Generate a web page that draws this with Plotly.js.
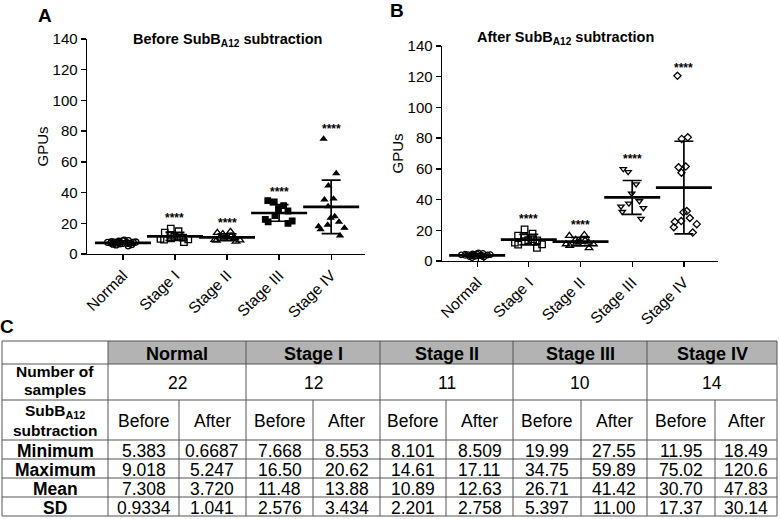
<!DOCTYPE html>
<html><head><meta charset="utf-8">
<script src="https://cdn.plot.ly/plotly-3.0.1.min.js"></script>
<style>html,body{margin:0;padding:0;background:#fff}#chart{width:780px;height:519px}</style>
</head><body><div id="chart"></div>
<script>
// ---------------- DATA ----------------
const categories = ['Normal', 'Stage I', 'Stage II', 'Stage III', 'Stage IV'];
const sampleCounts = [22, 12, 11, 10, 14];

// Panel A: individual GPU values before SubB_A12 subtraction
const beforeNormal = [5.383, 5.9, 6.2, 6.4, 6.6, 6.8, 6.9, 7.0, 7.1, 7.2, 7.3, 7.4, 7.5, 7.6, 7.7, 7.8, 7.9, 8.1, 8.3, 8.5, 8.7, 9.018];
const beforeStageI = [16.50, 14.8, 13.9, 12.4, 11.8, 11.2, 10.6, 10.2, 9.8, 9.5, 9.4, 7.668];
const beforeStageII = [14.61, 13.9, 13.2, 11.5, 11.0, 10.4, 10.0, 9.3, 9.0, 8.8, 8.101];
const beforeStageIII = [34.75, 34.0, 31.5, 29.5, 28.0, 25.0, 22.5, 21.5, 20.9, 19.99];
const beforeStageIV = [75.02, 52.5, 44.5, 36.0, 35.5, 31.0, 24.5, 23.5, 21.0, 19.0, 18.0, 17.0, 16.0, 11.95];

// Panel B: individual GPU values after SubB_A12 subtraction
const afterNormal = [0.6687, 2.2, 2.6, 2.9, 3.0, 3.2, 3.3, 3.4, 3.5, 3.6, 3.7, 3.8, 3.9, 4.0, 4.1, 4.2, 4.3, 4.5, 4.6, 4.8, 5.0, 5.247];
const afterStageI = [20.62, 17.8, 16.5, 15.5, 14.2, 13.6, 13.4, 13.0, 12.0, 10.8, 10.6, 8.553];
const afterStageII = [17.11, 16.5, 14.0, 13.5, 12.6, 12.2, 12.0, 11.0, 11.0, 10.0, 8.509];
const afterStageIII = [59.89, 58.0, 50.0, 44.0, 39.0, 37.5, 35.5, 34.5, 32.0, 27.55];
const afterStageIV = [120.6, 80.5, 79.5, 61.5, 61.0, 57.5, 32.5, 31.8, 28.0, 26.0, 25.5, 24.0, 22.0, 18.49];

// Summary statistics (table C; also the mean ± SD bars)
const beforeMin = [5.383, 7.668, 8.101, 19.99, 11.95];
const afterMin = [0.6687, 8.553, 8.509, 27.55, 18.49];
const beforeMax = [9.018, 16.50, 14.61, 34.75, 75.02];
const afterMax = [5.247, 20.62, 17.11, 59.89, 120.6];
const beforeMean = [7.308, 11.48, 10.89, 26.71, 30.70];
const afterMean = [3.720, 13.88, 12.63, 41.42, 47.83];
const beforeSD = [0.9334, 2.576, 2.201, 5.397, 17.37];
const afterSD = [1.041, 3.434, 2.758, 11.00, 30.14];

// Significance markers (height of the **** label above each group)
const starLabels = ['', '****', '****', '****', '****'];
const starBefore = [null, 23.5, 20.5, 40.5, 81.5];
const starAfter = [null, 27.2, 23.4, 66.2, 126.0];

const statRowLabels = ['Minimum', 'Maximum', 'Mean', 'SD'];
const phaseLabels = ['Before', 'After'];
const countLabelLines = ['Number of', 'samples'];
const phaseLabelLines = ['SubB<sub>A12</sub>', 'subtraction'];

// ---------------- STYLE / LAYOUT ----------------
const W = 780, H = 519;
const FONT = 'Arial, "Liberation Sans", sans-serif';
const px = x => x / W;
const py = y => 1 - y / H;

const symbolsA = ['circle-open', 'square-open', 'triangle-up-open', 'square', 'triangle-up'];
const symbolsB = ['circle-open', 'square-open', 'triangle-up-open', 'triangle-down-open', 'diamond-open'];
const sizesA = [6, 6.5, 6.5, 5.5, 5];
const sizesB = [5.5, 6.5, 6.5, 5.5, 5.5];

const groupsA = [beforeNormal, beforeStageI, beforeStageII, beforeStageIII, beforeStageIV];
const groupsB = [afterNormal, afterStageI, afterStageII, afterStageIII, afterStageIV];

const traces = [];
function addPanel(groups, means, sds, symbols, sizes, xa, ya) {
  groups.forEach((vals, i) => {
    traces.push({
      type: 'box', x: vals.map(() => categories[i]), y: vals,
      xaxis: xa, yaxis: ya,
      boxpoints: 'all', jitter: 1, pointpos: 0, width: 0.66,
      fillcolor: 'rgba(0,0,0,0)', line: {color: 'rgba(0,0,0,0)', width: 0}, whiskerwidth: 0,
      marker: {symbol: symbols[i], size: sizes[i], color: '#000', line: {color: '#000', width: 1.3}},
      hoverinfo: 'skip', showlegend: false
    });
  });
  traces.push({
    type: 'scatter', mode: 'markers', x: categories, y: means, xaxis: xa, yaxis: ya,
    error_y: {type: 'data', array: sds, visible: true, color: '#000', thickness: 1.7, width: 9.5},
    marker: {symbol: 'line-ew', size: 40, color: '#000', line: {color: '#000', width: 2.7}},
    cliponaxis: false, hoverinfo: 'skip', showlegend: false
  });
}
addPanel(groupsA, beforeMean, beforeSD, symbolsA, sizesA, 'x', 'y');
addPanel(groupsB, afterMean, afterSD, symbolsB, sizesB, 'x2', 'y2');

function xAxis(dom, anchor, range) {
  return {
    domain: dom, anchor: anchor, type: 'category', categoryorder: 'array', categoryarray: categories,
    range: range, showline: true, linecolor: '#000', linewidth: 1.4, ticks: 'outside', ticklen: 5,
    tickwidth: 1.3, tickcolor: '#000', tickangle: -45, tickfont: {family: FONT, size: 15.5, color: '#000'},
    showgrid: false, zeroline: false, fixedrange: true
  };
}
function yAxis(dom, anchor) {
  return {
    domain: dom, anchor: anchor, range: [0, 140], dtick: 20, showline: true, linecolor: '#000',
    linewidth: 1.4, ticks: 'outside', ticklen: 5, tickwidth: 1.3, tickcolor: '#000',
    tickfont: {family: FONT, size: 15, color: '#000'}, showgrid: false, zeroline: false, fixedrange: true,
    title: {text: 'GPUs', font: {family: FONT, size: 15, color: '#000'}, standoff: 0}
  };
}

const annotations = [];
const shapes = [];
function ann(text, x, y, size, extra) {
  annotations.push(Object.assign({
    text: text, x: px(x), y: py(y), xref: 'paper', yref: 'paper', showarrow: false, borderpad: 0,
    xanchor: 'center', yanchor: 'middle', font: {family: FONT, size: size, color: '#000'}
  }, extra || {}));
}

// panel letters and titles
ann('<b>A</b>', 45, 15, 19);
ann('<b>B</b>', 397, 11, 19);
ann('<b>C</b>', 7, 326, 19);
ann('<b>Before SubB<sub>A12</sub> subtraction</b>', 227, 40, 14.5);
ann('<b>After SubB<sub>A12</sub> subtraction</b>', 565, 38, 14.5);

// significance stars
categories.forEach((c, i) => {
  if (starBefore[i] !== null) annotations.push({text: '<b>' + starLabels[i] + '</b>', x: c, y: starBefore[i], xref: 'x', yref: 'y',
    showarrow: false, yanchor: 'middle', font: {family: FONT, size: 12, color: '#000'}});
  if (starAfter[i] !== null) annotations.push({text: '<b>' + starLabels[i] + '</b>', x: c, y: starAfter[i], xref: 'x2', yref: 'y2',
    showarrow: false, yanchor: 'middle', font: {family: FONT, size: 12, color: '#000'}});
});

// ---------------- TABLE (panel C) ----------------
const colX = [2, 108, 179, 246, 313, 380, 446, 513, 581, 647, 715, 777];
const rowY = [341, 364, 400, 440, 459, 478, 497, 516];
const LC = '#555';
function line(x0, y0, x1, y1) {
  shapes.push({type: 'line', xref: 'paper', yref: 'paper', x0: px(x0), y0: py(y0), x1: px(x1), y1: py(y1),
    line: {color: LC, width: 1}});
}
// header fill
shapes.push({type: 'rect', xref: 'paper', yref: 'paper', x0: px(colX[1]), x1: px(colX[11]), y0: py(rowY[0]), y1: py(rowY[1]),
  fillcolor: '#b3b3b3', line: {width: 0}, layer: 'below'});
rowY.forEach(y => line(colX[0], y, colX[11], y));
[0, 1, 3, 5, 7, 9, 11].forEach(k => line(colX[k], rowY[0], colX[k], rowY[7]));
[2, 4, 6, 8, 10].forEach(k => line(colX[k], rowY[2], colX[k], rowY[7]));

const TS = 17.5, HS = 18, LS = 15.5;
const cx = (a, b) => (a + b) / 2;
categories.forEach((c, i) => {
  const x0 = colX[1 + 2 * i], x1 = colX[3 + 2 * i], xm = colX[2 + 2 * i];
  ann('<b>' + c + '</b>', cx(x0, x1), cx(rowY[0], rowY[1]) + 1, HS);
  ann(String(sampleCounts[i]), cx(x0, x1), cx(rowY[1], rowY[2]) + 1, TS);
  ann(phaseLabels[0], cx(x0, xm), cx(rowY[2], rowY[3]) + 1, TS);
  ann(phaseLabels[1], cx(xm, x1), cx(rowY[2], rowY[3]) + 1, TS);
  const pairs = [[beforeMin, afterMin], [beforeMax, afterMax], [beforeMean, afterMean], [beforeSD, afterSD]];
  pairs.forEach((p, r) => {
    ann(p[0][i].toPrecision(4), cx(x0, xm), cx(rowY[3 + r], rowY[4 + r]) + 1, TS);
    ann(p[1][i].toPrecision(4), cx(xm, x1), cx(rowY[3 + r], rowY[4 + r]) + 1, TS);
  });
});
const c0 = cx(colX[0], colX[1]);
ann('<b>' + countLabelLines[0] + '</b>', c0, 381, LS, {yanchor: 'bottom'});
ann('<b>' + countLabelLines[1] + '</b>', c0, 380, LS, {yanchor: 'top'});
ann('<b>' + phaseLabelLines[0] + '</b>', c0, 422, LS, {yanchor: 'bottom'});
ann('<b>' + phaseLabelLines[1] + '</b>', c0, 420.5, LS, {yanchor: 'top'});
statRowLabels.forEach((l, r) => ann('<b>' + l + '</b>', c0, cx(rowY[3 + r], rowY[4 + r]) + 1, TS));

const layout = {
  width: W, height: H, margin: {l: 0, r: 0, t: 0, b: 0}, paper_bgcolor: '#fff', plot_bgcolor: 'rgba(0,0,0,0)',
  showlegend: false, font: {family: FONT, color: '#000'},
  xaxis: xAxis([px(87), px(365)], 'y', [-0.69, 4.65]),
  yaxis: yAxis([py(254), py(39)], 'x'),
  xaxis2: xAxis([px(442), px(718)], 'y2', [-0.68, 4.66]),
  yaxis2: yAxis([py(261), py(46)], 'x2'),
  annotations: annotations, shapes: shapes
};

Plotly.newPlot('chart', traces, layout, {staticPlot: true, displayModeBar: false});
</script></body></html>
